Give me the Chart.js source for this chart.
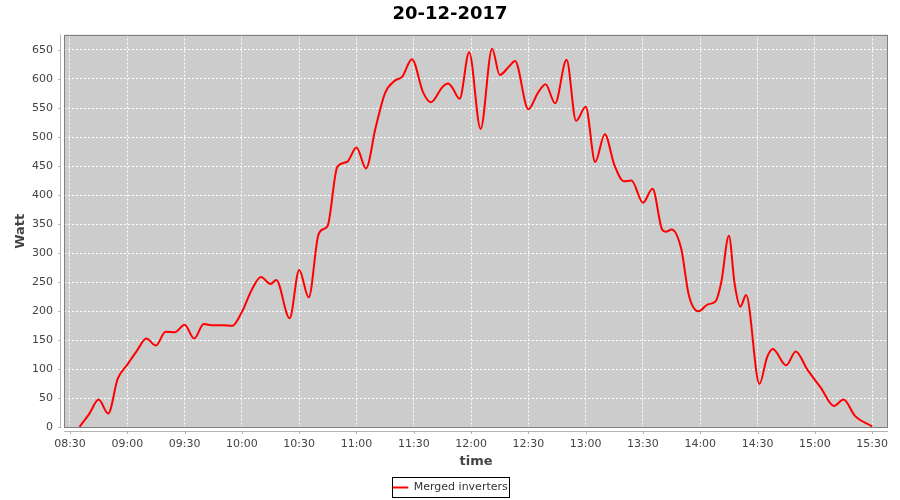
<!DOCTYPE html>
<html>
<head>
<meta charset="utf-8">
<script src="https://cdn.jsdelivr.net/npm/chart.js@4"></script>
<style>
  html, body { margin: 0; padding: 0; background: #ffffff; }
  #wrap { width: 900px; height: 500px; }
</style>
</head>
<body>
<div id="wrap"><canvas id="powerChart" width="900" height="500"></canvas></div>
<script>
// readings of the merged inverters, 20-12-2017
const times = [
  '08:35', '08:40', '08:45', '08:50', '08:55', '09:00', '09:05', '09:10', '09:15', '09:20',
  '09:25', '09:30', '09:35', '09:40', '09:45', '09:50', '09:55', '10:00', '10:05', '10:10',
  '10:15', '10:18', '10:25', '10:30', '10:35', '10:40', '10:43', '10:45', '10:50', '10:55',
  '11:00', '11:05', '11:10', '11:15', '11:20', '11:24', '11:29', '11:35', '11:39', '11:45',
  '11:48', '11:50', '11:54', '11:59', '12:05', '12:11', '12:15', '12:20', '12:23', '12:30',
  '12:35', '12:39', '12:44', '12:50', '12:55', '13:00', '13:05', '13:10', '13:15', '13:20',
  '13:24', '13:30', '13:35', '13:40', '13:42', '13:45', '13:50', '13:54', '13:59', '14:04',
  '14:08', '14:11', '14:15', '14:18', '14:21', '14:24', '14:31', '14:35', '14:38', '14:45',
  '14:50', '14:56', '15:03', '15:10', '15:15', '15:21', '15:30'
];
const watts = [
  1, 23, 48, 24, 84, 108, 132, 153, 141, 165,
  164, 177, 153, 178, 176, 176, 175, 199, 236, 259,
  247, 254, 188, 271, 224, 331, 342, 348, 449, 457,
  482, 446, 516, 576, 597, 604, 634, 576, 560, 586,
  592, 586, 566, 646, 514, 652, 607, 622, 631, 548,
  576, 591, 558, 633, 528, 552, 457, 505, 452, 424,
  425, 387, 411, 341, 337, 341, 308, 228, 200, 212,
  217, 250, 330, 247, 208, 228, 75, 121, 135, 107,
  131, 100, 69, 37, 48, 20, 2
];
const timeTicks = ['08:30', '09:00', '09:30', '10:00', '10:30', '11:00', '11:30', '12:00',
  '12:30', '13:00', '13:30', '14:00', '14:30', '15:00', '15:30'];
const wattTicks = [0, 50, 100, 150, 200, 250, 300, 350, 400, 450, 500, 550, 600, 650];

const toMin = t => { const p = t.split(':'); return +p[0] * 60 + +p[1]; };
const fmt = m => String(Math.floor(m / 60)).padStart(2, '0') + ':' + String(Math.round(m % 60)).padStart(2, '0');

// grey plot background, outline, offset axis lines and the legend frame
const plotFrame = {
  id: 'plotFrame',
  beforeDraw(chart) {
    const { ctx, chartArea: a } = chart;
    ctx.save();
    ctx.fillStyle = '#cccccc';
    ctx.fillRect(a.left, a.top, a.right - a.left, a.bottom - a.top);
    ctx.restore();
  },
  afterDraw(chart) {
    const { ctx, chartArea: a, scales } = chart;
    const line = (x1, y1, x2, y2) => { ctx.beginPath(); ctx.moveTo(x1, y1); ctx.lineTo(x2, y2); ctx.stroke(); };
    ctx.save();
    ctx.lineWidth = 1;
    ctx.strokeStyle = '#808080';
    ctx.strokeRect(Math.round(a.left) + 0.5, Math.round(a.top) + 0.5,
      Math.round(a.right - a.left) - 1, Math.round(a.bottom - a.top) - 1);

    ctx.strokeStyle = '#b4b4b4';
    const ax = Math.round(a.left) - 3.5;
    const ay = Math.round(a.bottom) + 3.5;
    line(ax, a.top, ax, a.bottom);
    line(a.left, ay, a.right, ay);
    scales.y.ticks.forEach(t => {
      const py = Math.round(scales.y.getPixelForValue(t.value)) + 0.5;
      line(ax - 2.5, py, ax, py);
    });
    scales.x.ticks.forEach(t => {
      const px = Math.round(scales.x.getPixelForValue(t.value)) + 0.5;
      line(px, ay, px, ay + 2.5);
    });

    const hb = chart.legend.legendHitBoxes[0];
    if (hb) {
      ctx.strokeStyle = '#000000';
      const cy = Math.round(hb.top + hb.height / 2);
      ctx.strokeRect(Math.round(hb.left) + 0.5, cy - 10.5, Math.round(hb.width) + 2, 20);
    }
    ctx.restore();
  }
};

Chart.defaults.font.family = '"DejaVu Sans", sans-serif';

const ctx = document.getElementById('powerChart').getContext('2d');
new Chart(ctx, {
  type: 'line',
  data: {
    datasets: [{
      label: 'Merged inverters',
      data: times.map((t, i) => ({ x: toMin(t), y: watts[i] })),
      borderColor: '#ff0000',
      backgroundColor: '#ff0000',
      borderWidth: 2,
      pointRadius: 0,
      fill: false,
      cubicInterpolationMode: 'monotone'
    }]
  },
  options: {
    responsive: false,
    animation: false,
    devicePixelRatio: 1,
    layout: { padding: { left: 0, right: 0, top: 0, bottom: -3 } },
    plugins: {
      title: {
        display: true,
        text: '20-12-2017',
        color: '#000000',
        font: { size: 18, weight: 'bold' },
        padding: { top: 4, bottom: 9 }
      },
      legend: {
        position: 'bottom',
        labels: {
          usePointStyle: true,
          pointStyle: 'line',
          pointStyleWidth: 16,
          color: '#333333',
          font: { size: 11 },
          padding: 3
        }
      },
      tooltip: { enabled: false }
    },
    scales: {
      x: {
        type: 'linear',
        min: 506.86,
        max: 938.3,
        afterBuildTicks: s => { s.ticks = timeTicks.map(t => ({ value: toMin(t) })); },
        afterFit: s => { s.height = 51; },
        ticks: {
          callback: v => fmt(v),
          color: '#444444',
          font: { size: 11 },
          padding: 9.5,
          maxRotation: 0,
          autoSkip: false
        },
        grid: { color: '#ffffff', lineWidth: 1, drawTicks: false },
        border: { display: false, dash: [2, 2] },
        title: {
          display: true,
          text: 'time',
          color: '#444444',
          font: { size: 13, weight: 'bold' },
          padding: { top: 0, bottom: 10 }
        }
      },
      y: {
        min: -0.9,
        max: 676.4,
        afterBuildTicks: s => { s.ticks = wattTicks.map(v => ({ value: v })); },
        afterFit: s => { s.width = 64; },
        ticks: {
          color: '#444444',
          font: { size: 11 },
          padding: 11
        },
        grid: { color: '#ffffff', lineWidth: 1, drawTicks: false },
        border: { display: false, dash: [2, 2] },
        title: {
          display: true,
          text: 'Watt',
          color: '#444444',
          font: { size: 13, weight: 'bold' },
          padding: { top: 13, bottom: 0 }
        }
      },
      // empty strip on the right so the plot ends where the original one does
      gap: {
        type: 'linear',
        position: 'right',
        afterFit: s => { s.width = 12; },
        ticks: { display: false },
        grid: { display: false },
        border: { display: false }
      }
    }
  },
  plugins: [plotFrame]
});
</script>
</body>
</html>
